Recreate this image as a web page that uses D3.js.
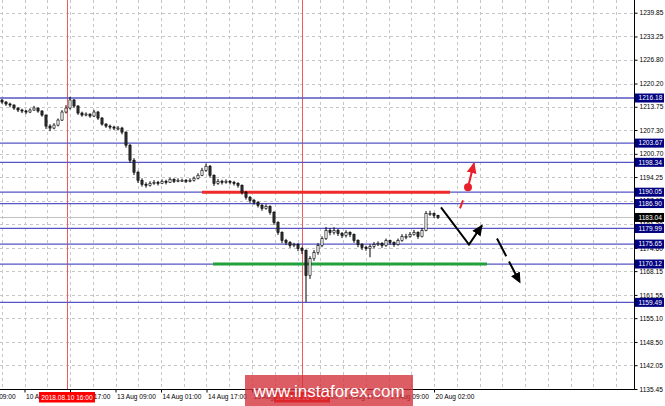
<!DOCTYPE html>
<html>
<head>
<meta charset="utf-8">
<script src="https://cdn.jsdelivr.net/npm/d3@7"></script>
<style>
body { margin: 0; background: #fff; }
svg { display: block; }
text { font-family: "Liberation Sans", Arial, sans-serif; }
</style>
</head>
<body>
<div id="chart"></div>
<script>
// hourly candles, sampled (first open, then each open = previous close)
var firstOpen = 1215.60;
var closes = [
    1215.07,1214.52,1214.24,1213.40,1212.85,1212.57,1212.29,1212.85,1213.40,1212.57,
    1211.45,1208.39,1207.84,1208.67,1210.06,1212.29,1213.40,1215.63,1213.96,1212.01,
    1211.45,1211.73,1211.18,1212.29,1210.62,1208.95,1208.39,1208.11,1207.84,1207.84,
    1206.72,1203.10,1198.93,1195.59,1193.36,1192.25,1191.97,1192.52,1192.80,1192.52,
    1193.08,1192.80,1193.64,1193.08,1193.36,1193.36,1193.08,1193.36,1193.92,1194.75,
    1196.14,1197.26,1194.75,1192.52,1193.08,1192.80,1193.08,1192.80,1192.52,1191.97,
    1190.02,1188.63,1187.79,1187.23,1186.40,1185.56,1186.12,1184.45,1181.67,1178.88,
    1176.65,1176.10,1175.26,1175.54,1174.43,1173.87,1166.90,1171.64,1173.31,1175.26,
    1177.21,1179.44,1178.88,1179.44,1178.60,1178.05,1178.88,1178.33,1176.65,1175.54,
    1174.71,1174.43,1174.98,1175.54,1175.82,1175.26,1176.65,1176.10,1175.54,1176.65,
    1177.77,1177.77,1178.33,1178.88,1177.77,1179.44,1184.17,1184.17,1183.61,1183.04
];
var highs = [
    1215.9,1215.3,1214.9,1214.4,1213.6,1213.2,1212.9,1213.3,1214.0,1213.5,
    1212.8,1211.6,1208.9,1209.2,1210.5,1212.8,1214.2,1216.5,1215.9,1214.2,
    1212.4,1212.2,1211.9,1212.9,1212.6,1210.9,1209.2,1208.8,1208.5,1208.4,
    1208.2,1206.9,1203.4,1199.5,1196.0,1193.9,1192.8,1193.1,1193.4,1193.2,
    1193.6,1193.5,1194.1,1193.9,1193.9,1193.8,1193.7,1193.9,1194.4,1195.3,
    1196.8,1198.0,1197.6,1195.0,1193.7,1193.5,1193.6,1193.4,1193.2,1192.8,
    1192.2,1190.4,1189.0,1188.2,1187.6,1186.8,1186.7,1186.4,1184.8,1182.0,
    1179.2,1177.1,1176.5,1176.0,1175.9,1174.9,1174.2,1172.3,1174.0,1175.9,
    1177.8,1180.4,1180.1,1180.3,1179.9,1179.0,1179.5,1179.2,1178.6,1177.0,
    1175.9,1175.2,1175.6,1176.2,1176.4,1176.2,1177.2,1176.9,1176.4,1177.2,
    1178.4,1178.5,1179.0,1179.6,1179.2,1180.1,1184.8,1184.9,1184.4,1183.8
];
var lows = [
    1214.6,1214.0,1213.6,1212.9,1212.3,1212.0,1211.7,1212.0,1212.6,1212.1,
    1211.0,1207.6,1207.0,1207.5,1208.3,1209.8,1211.9,1213.0,1213.5,1211.5,
    1211.0,1211.1,1210.7,1210.9,1210.1,1208.5,1207.9,1207.5,1207.3,1207.2,
    1206.1,1202.4,1198.2,1194.8,1192.6,1191.6,1191.3,1191.6,1192.1,1191.9,
    1192.3,1192.2,1192.6,1192.6,1192.8,1192.9,1192.6,1192.8,1193.0,1193.6,
    1194.5,1195.7,1194.1,1191.8,1192.1,1192.2,1192.4,1192.2,1191.9,1191.3,
    1189.4,1188.0,1187.1,1186.6,1185.8,1184.9,1185.2,1183.8,1181.0,1178.2,
    1175.9,1175.4,1174.6,1174.8,1173.7,1172.9,1159.6,1166.0,1171.0,1172.7,
    1174.8,1176.8,1178.1,1178.3,1177.9,1177.3,1177.5,1177.6,1176.0,1174.8,
    1174.0,1173.8,1172.0,1174.5,1175.1,1174.6,1174.9,1175.5,1174.9,1175.2,
    1176.3,1177.0,1177.4,1178.0,1177.1,1177.5,1179.2,1183.5,1182.9,1182.6
];

var yTicks = [1135.45, 1142.05, 1148.50, 1155.10, 1161.55, 1168.15, 1174.60, 1181.20,
    1187.65, 1194.25, 1200.70, 1207.30, 1213.75, 1220.20, 1226.80, 1233.25, 1239.85];
var levels = [1216.18, 1203.67, 1198.34, 1190.05, 1186.90, 1179.99, 1175.65, 1170.12, 1159.49];
var lastPrice = 1183.04;

var timeLabels = ["9 Aug 09:00", "10 Aug 01:00", "10 Aug 17:00", "13 Aug 09:00", "14 Aug 01:00",
    "14 Aug 17:00", "15 Aug 09:00", "16 Aug 01:00", "16 Aug 17:00", "17 Aug 09:00", "20 Aug 02:00"];
var timePos = [-5.25, 6.125, 17.5, 28.875, 40.25, 51.625, 63, 74.375, 85.75, 97.125, 108.5];

var markerPos = [16.75, 75.5];
var markerLabels = ["2018.08.10 16:00", "2018.08.16 03:00"];

var resistance = [[50.5, 1190.05], [112.5, 1190.05]];
var support = [[53.25, 1170.12], [121.75, 1170.12]];
var pathDown = [[110.25, 1185.84], [117.25, 1175.54], [120.5, 1180.83]];
var pathBreak = [[124.25, 1177.21], [130, 1164.96]];
var pathRedDash = [[115, 1185.56], [115.75, 1187.79]];
var pathRedUp = [[117, 1191.41], [118.5, 1198.09]];

var width = 665, height = 406,
    plotW = 634, plotH = 389,
    fontSize = "6.6px";

var x = d3.scaleLinear().domain([0, 158.5]).range([0, plotW]);
var y = d3.scaleLinear().domain([1135.45, 1239.85]).range([389, 12.7]);

var svg = d3.select("#chart").append("svg")
    .attr("width", width)
    .attr("height", height);

var defs = svg.append("defs");
function arrowHead(id, color) {
    defs.append("marker")
        .attr("id", id)
        .attr("viewBox", "0 -5 10 10")
        .attr("refX", 9)
        .attr("refY", 0)
        .attr("markerUnits", "userSpaceOnUse")
        .attr("markerWidth", 11)
        .attr("markerHeight", 11)
        .attr("orient", "auto")
        .append("path")
        .attr("d", "M0,-4.5L10,0L0,4.5Z")
        .attr("fill", color);
}
arrowHead("ahBlack", "#000");
arrowHead("ahRed", "#e8202a");

defs.append("clipPath").attr("id", "plotClip")
    .append("rect").attr("width", plotW).attr("height", plotH);

var plot = svg.append("g").attr("clip-path", "url(#plotClip)");

// grid
var gridX = d3.range(-5.25, 158.5, 5.6875);
plot.append("g").selectAll("line")
    .data(gridX)
    .enter().append("line")
    .attr("x1", function(d) { return Math.round(x(d)) + 0.5; })
    .attr("x2", function(d) { return Math.round(x(d)) + 0.5; })
    .attr("y1", 0).attr("y2", plotH)
    .attr("stroke", "#c6c6c6")
    .attr("stroke-dasharray", "3,3");

plot.append("g").selectAll("line")
    .data(yTicks)
    .enter().append("line")
    .attr("x1", 0).attr("x2", plotW)
    .attr("y1", function(d) { return Math.round(y(d)) + 0.5; })
    .attr("y2", function(d) { return Math.round(y(d)) + 0.5; })
    .attr("stroke", "#c6c6c6")
    .attr("stroke-dasharray", "3,3");

// date markers
plot.append("g").selectAll("line")
    .data(markerPos)
    .enter().append("line")
    .attr("x1", function(d) { return Math.round(x(d)) + 0.5; })
    .attr("x2", function(d) { return Math.round(x(d)) + 0.5; })
    .attr("y1", 0).attr("y2", plotH)
    .attr("stroke", "#f25a5a")
    .attr("stroke-width", 1);

// level lines
plot.append("line")
    .attr("x1", 0).attr("x2", plotW)
    .attr("y1", y(lastPrice)).attr("y2", y(lastPrice))
    .attr("stroke", "#c0c0c0");

plot.append("g").selectAll("line")
    .data(levels)
    .enter().append("line")
    .attr("x1", 0).attr("x2", plotW)
    .attr("y1", function(d) { return y(d); })
    .attr("y2", function(d) { return y(d); })
    .attr("stroke", "#5555c4")
    .attr("stroke-width", 1.3);

var line = d3.line()
    .x(function(d) { return x(d[0]); })
    .y(function(d) { return y(d[1]); });

plot.append("path").attr("d", line(resistance))
    .attr("stroke", "#ee2a2a").attr("stroke-width", 3).attr("fill", "none");
plot.append("path").attr("d", line(support))
    .attr("stroke", "#22a03a").attr("stroke-width", 3).attr("fill", "none");

// candles
var bars = closes.map(function(c, i) {
    return { i: i, open: i === 0 ? firstOpen : closes[i - 1], close: c, high: highs[i], low: lows[i] };
});

var candle = plot.append("g").selectAll("g")
    .data(bars)
    .enter().append("g");

candle.append("line")
    .attr("x1", function(d) { return x(d.i + 0.5); })
    .attr("x2", function(d) { return x(d.i + 0.5); })
    .attr("y1", function(d) { return y(d.high); })
    .attr("y2", function(d) { return y(d.low); })
    .attr("stroke", "#000")
    .attr("stroke-width", 1);

candle.append("rect")
    .attr("x", function(d) { return x(d.i + 0.5) - 1.1; })
    .attr("width", 2.2)
    .attr("y", function(d) { return y(Math.max(d.open, d.close)); })
    .attr("height", function(d) { return Math.max(1, Math.abs(y(d.open) - y(d.close))); })
    .attr("fill", function(d) { return d.close >= d.open ? "#fff" : "#333"; })
    .attr("stroke", "#000")
    .attr("stroke-width", 0.6);

// forecast arrows
plot.append("path").attr("d", line(pathDown))
    .attr("fill", "none").attr("stroke", "#000").attr("stroke-width", 2)
    .attr("marker-end", "url(#ahBlack)");
plot.append("path").attr("d", line(pathBreak))
    .attr("fill", "none").attr("stroke", "#000").attr("stroke-width", 2)
    .attr("stroke-dasharray", "20,6")
    .attr("marker-end", "url(#ahBlack)");
plot.append("path").attr("d", line(pathRedDash))
    .attr("fill", "none").attr("stroke", "#e8202a").attr("stroke-width", 2);
plot.append("path").attr("d", line(pathRedUp))
    .attr("fill", "none").attr("stroke", "#e8202a").attr("stroke-width", 2)
    .attr("marker-end", "url(#ahRed)");
plot.append("circle")
    .attr("cx", x(pathRedUp[0][0])).attr("cy", y(pathRedUp[0][1]))
    .attr("r", 4).attr("fill", "#e8202a");

// axes
var yAxis = svg.append("g")
    .attr("transform", "translate(" + (plotW + 0.5) + ",0)")
    .call(d3.axisRight(y).tickValues(yTicks).tickFormat(d3.format(".2f")).tickSize(3).tickPadding(2));
yAxis.select(".domain").attr("d", "M0,0V" + (plotH + 0.5)).attr("stroke", "#000");
yAxis.selectAll("text").attr("font-size", fontSize).attr("font-family", "Liberation Sans, Arial, sans-serif").attr("fill", "#000");

var xAxis = svg.append("g")
    .attr("transform", "translate(0," + (plotH + 0.5) + ")")
    .call(d3.axisBottom(x).tickValues(timePos).tickFormat(function(d, i) { return timeLabels[i]; }).tickSize(3).tickSizeOuter(0));
xAxis.select(".domain").attr("d", "M0,0H" + (plotW + 0.5)).attr("stroke", "#000");
xAxis.selectAll("text")
    .attr("text-anchor", "start")
    .attr("x", 1)
    .attr("y", 5)
    .attr("font-size", fontSize).attr("font-family", "Liberation Sans, Arial, sans-serif").attr("fill", "#000");

// price boxes on right axis
var box = svg.append("g").selectAll("g")
    .data(levels.map(function(v) { return { v: v, fill: "#000080" }; })
        .concat([{ v: lastPrice, fill: "#000" }]))
    .enter().append("g")
    .attr("transform", function(d) { return "translate(" + (plotW + 1) + "," + y(d.v) + ")"; });
box.append("rect")
    .attr("x", 0).attr("y", -4.5).attr("width", 29).attr("height", 9)
    .attr("fill", function(d) { return d.fill; });
box.append("text")
    .attr("x", 3.5).attr("dy", "0.34em")
    .attr("font-size", fontSize).attr("fill", "#fff")
    .text(function(d) { return d3.format(".2f")(d.v); });

// date marker labels
var mark = svg.append("g").selectAll("g")
    .data(markerPos)
    .enter().append("g")
    .attr("transform", function(d) { return "translate(" + x(d) + "," + (plotH + 9) + ")"; });
mark.append("rect")
    .attr("x", -28).attr("y", -6).attr("width", 56).attr("height", 10.5)
    .attr("fill", "#ff0000");
mark.append("text")
    .attr("text-anchor", "middle").attr("dy", "0.33em")
    .attr("font-size", fontSize).attr("fill", "#fff")
    .text(function(d, i) { return markerLabels[i]; });

// watermark
svg.append("rect")
    .attr("x", 245).attr("y", 375).attr("width", 168).attr("height", 31)
    .attr("fill", "rgba(212,48,56,0.78)");
svg.append("text")
    .attr("x", 329).attr("y", 397)
    .attr("text-anchor", "middle")
    .attr("font-size", "17px")
    .attr("fill", "#fff")
    .text("www.instaforex.com");
</script>
</body>
</html>
